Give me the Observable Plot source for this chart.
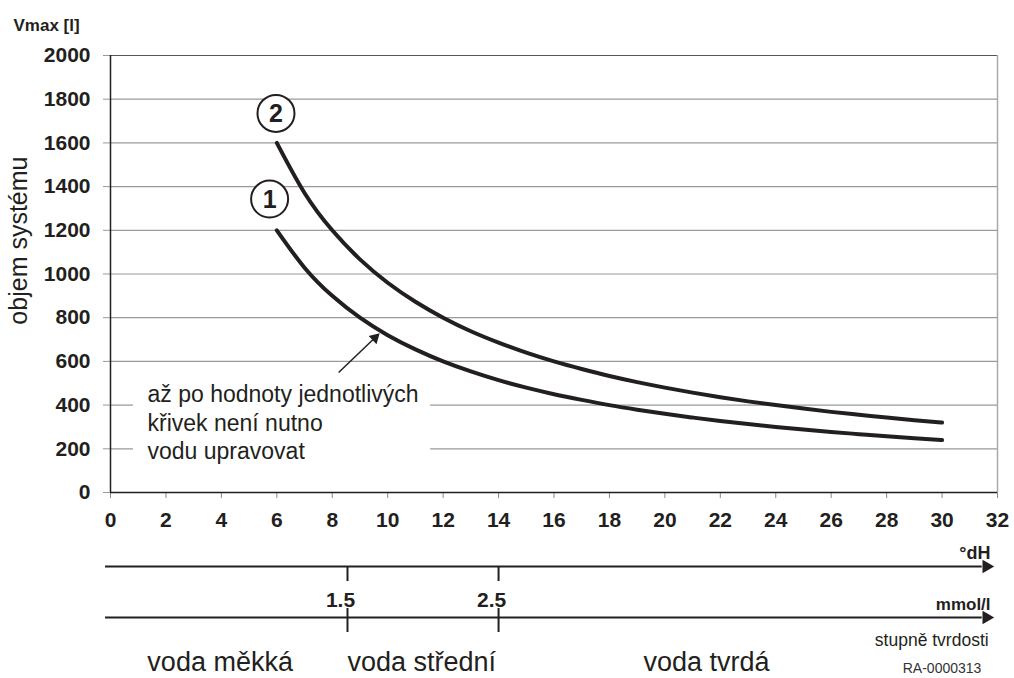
<!DOCTYPE html>
<html>
<head>
<meta charset="utf-8">
<script src="https://cdn.jsdelivr.net/npm/d3@7"></script>
<script src="https://cdn.jsdelivr.net/npm/@observablehq/plot@0.6"></script>
<style>
  html, body { margin: 0; padding: 0; background: #fff; }
  #chart svg { display: block; }
</style>
</head>
<body>
<div id="chart"></div>
<script>
// ---- data ----
const hardnessDH = [6,7,8,9,10,11,12,13,14,15,16,17,18,19,20,21,22,23,24,25,26,27,28,29,30];
const curve1 = [1200,1029,900,800,720,655,600,554,514,480,450,424,400,379,360,343,327,313,300,288,277,267,257,248,240];
const curve2 = [1600,1371,1200,1067,960,873,800,738,686,640,600,565,533,505,480,457,436,417,400,384,369,356,343,331,320];
const xTicks = [0,2,4,6,8,10,12,14,16,18,20,22,24,26,28,30,32];
const yTicks = [0,200,400,600,800,1000,1200,1400,1600,1800,2000];
const gridLines = [200,400,600,800,1000,1200,1400,1600,1800];
const curveLabels = [{name: "2", x: 5.97, y: 1735}, {name: "1", x: 5.74, y: 1343}];
const noteText = ["až po hodnoty jednotlivých", "křivek není nutno", "vodu upravovat"];
const noteBox = [{x1: 0.83, x2: 11.55, y1: 140, y2: 548}];
const noteArrow = [{x1: 8.23, y1: 549, x2: 9.54, y2: 708}];
const noteArrowHead = [{x: 9.54, y: 708}];
const mmolTicks = [{label: "1.5", dH: 8.55}, {label: "2.5", dH: 14.0}];
const hardnessClasses = [{label: "voda měkká", dH: 1.33}, {label: "voda střední", dH: 8.55}, {label: "voda tvrdá", dH: 19.23}];
const scaleRows = [{label: "°dH", row: 26, labelRow: 13, fs: 18}, {label: "mmol/l", row: 77, labelRow: 64, fs: 17}];

const ink = "#231f20";
const font = "'Liberation Sans', Arial, Helvetica, sans-serif";

const series = [];
hardnessDH.forEach((h, i) => {
  series.push({curve: "1", dH: h, v: curve1[i]});
  series.push({curve: "2", dH: h, v: curve2[i]});
});

const main = Plot.plot({
  width: 1014,
  height: 540,
  marginLeft: 110,
  marginRight: 17,
  marginTop: 55,
  marginBottom: 48,
  style: {fontFamily: font, overflow: "visible", color: ink},
  x: {domain: [0, 32]},
  y: {domain: [0, 2000]},
  marks: [
    Plot.ruleY(gridLines, {stroke: "#9a9a9a", strokeWidth: 1.2}),
    Plot.ruleY([2000], {stroke: "#555", strokeWidth: 1.2}),
    Plot.ruleX([32], {stroke: "#aaa", strokeWidth: 1.5}),
    Plot.rect(noteBox, {x1: "x1", x2: "x2", y1: "y1", y2: "y2", fill: "white"}),
    Plot.axisX({ticks: xTicks, tickFormat: d3.format("d"), tickSize: 6, tickPadding: 14, fontSize: 21, fontWeight: "bold", label: null, stroke: "#888", fill: ink}),
    Plot.axisY({ticks: yTicks, tickFormat: d3.format("d"), tickSize: 7, tickPadding: 13, fontSize: 21, fontWeight: "bold", label: null, stroke: "#999", fill: ink}),
    Plot.ruleX([0], {y1: 0, y2: 2000, stroke: ink, strokeWidth: 1.5}),
    Plot.ruleY([0], {x1: 0, x2: 32, stroke: ink, strokeWidth: 1.5}),
    Plot.line(series, {x: "dH", y: "v", z: "curve", curve: "natural", stroke: ink, strokeWidth: 4, strokeLinecap: "round"}),
    Plot.dot(curveLabels, {x: "x", y: "y", r: 18.5, stroke: ink, strokeWidth: 2, fill: "white"}),
    Plot.text(curveLabels, {x: "x", y: "y", text: "name", fontSize: 25, fontWeight: "bold", fill: ink, dy: 1}),
    Plot.text([noteText.join("\n")], {x: noteBox[0].x1, y: 325, text: d => d, textAnchor: "start", lineAnchor: "middle", lineHeight: 1.24, fontSize: 23, fill: ink, dx: 14}),
    Plot.link(noteArrow, {x1: "x1", y1: "y1", x2: "x2", y2: "y2", stroke: ink, strokeWidth: 1.5}),
    Plot.dot(noteArrowHead, {x: "x", y: "y", symbol: "triangle", r: 4.2, fill: ink, rotate: 46}),
    Plot.text(["objem systému"], {frameAnchor: "left", y: 1153, rotate: -90, textAnchor: "middle", dx: -92, fontSize: 25, fill: ink}),
    Plot.text(["Vmax [l]"], {frameAnchor: "top-left", textAnchor: "start", dx: -97, dy: -37, fontSize: 17, fontWeight: "bold", fill: ink})
  ]
});

const lower = Plot.plot({
  width: 1014,
  height: 138,
  marginLeft: 110,
  marginRight: 17,
  marginTop: 0,
  marginBottom: 0,
  style: {fontFamily: font, overflow: "visible", color: ink},
  x: {domain: [0, 32], axis: null},
  y: {domain: [0, 138], range: [0, 138], axis: null},
  marks: [
    Plot.ruleY(scaleRows, {y: "row", x1: -0.18, x2: 31.45, stroke: ink, strokeWidth: 2}),
    Plot.dot(scaleRows, {x: 31.6, y: "row", symbol: "triangle", r: 5, fill: ink, rotate: 90}),
    Plot.text(scaleRows, {x: 31.75, y: "labelRow", text: "label", textAnchor: "end", fontSize: d => d.fs, fontWeight: "bold", fill: ink}),
    Plot.ruleX(mmolTicks, {x: "dH", y1: 26, y2: 41, stroke: ink, strokeWidth: 2}),
    Plot.ruleX(mmolTicks, {x: "dH", y1: 68, y2: 92, stroke: ink, strokeWidth: 2}),
    Plot.text(mmolTicks, {x: "dH", y: 60, text: "label", dx: -7, fontSize: 21, fontWeight: "bold", fill: ink}),
    Plot.text(["stupně tvrdosti"], {x: 31.68, y: 100, textAnchor: "end", fontSize: 17.5, fill: ink}),
    Plot.text(["RA-0000313"], {x: 30.0, y: 128, fontSize: 14, fill: "#333"}),
    Plot.text(hardnessClasses, {x: "dH", y: 122, text: "label", textAnchor: "start", fontSize: 27, fill: ink})
  ]
});

document.getElementById("chart").append(main, lower);
</script>
</body>
</html>
